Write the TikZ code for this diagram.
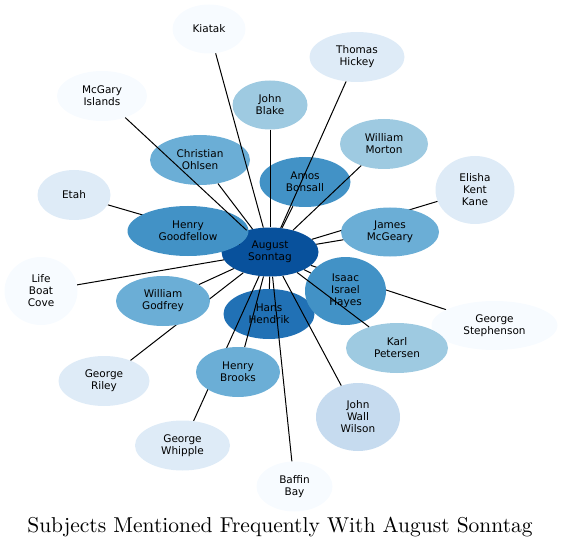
\documentclass[tikz,border=0pt]{standalone}
\usepackage{fontspec}
\usetikzlibrary{shapes.geometric}
\newfontfamily\labelfont{DejaVu Sans}
\newfontfamily\titlefont{lmroman10-regular}[Extension=.otf]
\definecolor{blueA}{HTML}{F7FBFF}
\definecolor{blueB}{HTML}{DEEBF7}
\definecolor{blueC}{HTML}{C6DBEF}
\definecolor{blueD}{HTML}{9ECAE1}
\definecolor{blueE}{HTML}{6BAED6}
\definecolor{blueF}{HTML}{4292C6}
\definecolor{blueG}{HTML}{2171B5}
\definecolor{blueH}{HTML}{08519C}
\pgfdeclarelayer{bottom}
\pgfdeclarelayer{back}
\pgfdeclarelayer{front}
\pgfsetlayers{bottom,back,main,front}

\begin{document}
\begin{tikzpicture}[x=1pt, y=-1pt,
  ent/.style={ellipse, fill=#1, inner sep=0pt, align=center,
    font=\labelfont\fontsize{10.5}{12}\selectfont},
  link/.style={line width=1pt}]
  \useasboundingbox (0,0) rectangle (562,548);
  % centre node and the one the links cross
  \begin{pgfonlayer}{bottom}
    \node[ent=blueH, minimum width=97pt, minimum height=49pt] (sonntag) at (270,252) {August\\Sonntag};
    \node[ent=blueG, minimum width=91pt, minimum height=50pt] (hendrik) at (269,314) {Hans\\Hendrik};
  \end{pgfonlayer}
  % outer ring
  \node[ent=blueA, minimum width=73pt, minimum height=49pt] (kiatak) at (209,29) {Kiatak};
  \node[ent=blueB, minimum width=95pt, minimum height=50pt] (hickey) at (357,57) {Thomas\\Hickey};
  \node[ent=blueA, minimum width=90pt, minimum height=50pt] (mcgary) at (102,96) {McGary\\Islands};
  \node[ent=blueD, minimum width=75pt, minimum height=49pt] (blake) at (270,105) {John\\Blake};
  \node[ent=blueD, minimum width=88pt, minimum height=50pt] (morton) at (384,144) {William\\Morton};
  \node[ent=blueE, minimum width=100pt, minimum height=50pt] (ohlsen) at (200,160) {Christian\\Ohlsen};
  \node[ent=blueF, minimum width=91pt, minimum height=50pt] (bonsall) at (305,182) {Amos\\Bonsall};
  \node[ent=blueB, minimum width=73pt, minimum height=50pt] (etah) at (74,195) {Etah};
  \node[ent=blueB, minimum width=79pt, minimum height=68pt] (kane) at (475,190) {Elisha\\Kent\\Kane};
  \node[ent=blueF, minimum width=121pt, minimum height=50pt] (goodfellow) at (188,231) {Henry\\Goodfellow};
  \node[ent=blueE, minimum width=98pt, minimum height=49pt] (mcgeary) at (390,232) {James\\McGeary};
  \node[ent=blueA, minimum width=73pt, minimum height=68pt] (lifeboat) at (41,291) {Life\\Boat\\Cove};
  \node[ent=blueE, minimum width=94pt, minimum height=50pt] (godfrey) at (163,301) {William\\Godfrey};
  \node[ent=blueF, minimum width=81pt, minimum height=68pt] (hayes) at (345.5,291) {Isaac\\Israel\\Hayes};
  \node[ent=blueA, minimum width=126pt, minimum height=49pt] (stephenson) at (494.5,325.5) {George\\Stephenson};
  \node[ent=blueD, minimum width=102pt, minimum height=50pt] (petersen) at (397,348) {Karl\\Petersen};
  \node[ent=blueB, minimum width=91pt, minimum height=50pt] (riley) at (104,381) {George\\Riley};
  \node[ent=blueE, minimum width=84pt, minimum height=50pt] (brooks) at (238,372) {Henry\\Brooks};
  \node[ent=blueC, minimum width=84pt, minimum height=68pt] (wilson) at (358,417) {John\\Wall\\Wilson};
  \node[ent=blueB, minimum width=95pt, minimum height=50pt] (whipple) at (182.5,445.5) {George\\Whipple};
  \node[ent=blueA, minimum width=76pt, minimum height=50pt] (baffin) at (294.5,486.5) {Baffin\\Bay};
  % links hidden behind other nodes
  \begin{pgfonlayer}{back}
    \foreach \n in {etah,riley,whipple,stephenson,kane,goodfellow}
      \draw[link] (\n) -- (sonntag);
  \end{pgfonlayer}
  % links drawn over nodes
  \begin{pgfonlayer}{front}
    \foreach \n in {kiatak,hickey,mcgary,blake,morton,ohlsen,bonsall,mcgeary,lifeboat,godfrey,hayes,petersen,hendrik,brooks,wilson,baffin}
      \draw[link] (\n) -- (sonntag);
  \end{pgfonlayer}
  \node[font=\titlefont\fontsize{21.5}{26}\selectfont, anchor=base] (title) at (280,532) {Subjects Mentioned Frequently With August Sonntag};
\end{tikzpicture}
\end{document}
